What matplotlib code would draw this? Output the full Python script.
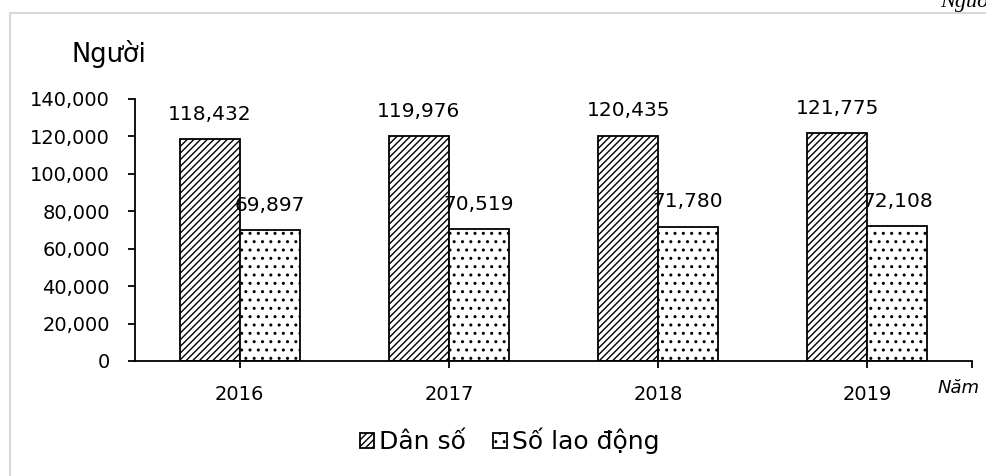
import numpy as np
import matplotlib
matplotlib.use("Agg")
import matplotlib.pyplot as plt
from matplotlib.ticker import FuncFormatter
from matplotlib.lines import Line2D

plt.rcParams['font.family'] = ['DejaVu Sans']
plt.rcParams['hatch.linewidth'] = 1.0

years = ['2016', '2017', '2018', '2019']
dan_so = [118432, 119976, 120435, 121775]
so_lao_dong = [69897, 70519, 71780, 72108]

fig = plt.figure(figsize=(9.86, 4.76), dpi=100)
ax = fig.add_axes([135/986, 1-361/476, (972-135)/986, (361-99)/476])

x = np.arange(len(years))
w = 0.287
b1 = ax.bar(x - w, dan_so, w, align='edge', color='white', edgecolor='black',
            hatch='/////', linewidth=1.3, label='D\u00e2n s\u1ed1')
b2 = ax.bar(x, so_lao_dong, w, align='edge', color='white', edgecolor='black',
            hatch='..', linewidth=1.3, label='S\u1ed1 lao \u0111\u1ed9ng')

for bars, vals in ((b1, dan_so), (b2, so_lao_dong)):
    for r, v in zip(bars, vals):
        ax.annotate(f'{v:,}', (r.get_x() + r.get_width()/2, v),
                    xytext=(0, 11), textcoords='offset points',
                    ha='center', va='bottom', fontsize=14.5)

ax.set_xlim(-0.5, len(years) - 0.5)
ax.set_ylim(0, 140000)
ax.set_yticks(np.arange(0, 140001, 20000))
ax.yaxis.set_major_formatter(FuncFormatter(lambda v, p: f'{v:,.0f}'))
ax.set_xticks(list(x) + [len(years) - 0.5])
ax.set_xticklabels(years + [''])

for s in ('top', 'right'):
    ax.spines[s].set_visible(False)
for s in ('left', 'bottom'):
    ax.spines[s].set_linewidth(1.3)
ax.tick_params(axis='both', direction='out', length=5, width=1.3, labelsize=14)
ax.tick_params(axis='x', pad=12)
ax.tick_params(axis='y', pad=13)

fig.text(72/986, 1-62/476, 'Ng\u01b0\u1eddi', fontsize=18.5, va='baseline')
fig.text(938/986, 1-393/476, 'N\u0103m', fontsize=13, style='italic', va='baseline')
fig.text(940/986, 1-7/476, 'Ngu\u1ed3n', fontsize=16, family='Liberation Serif',
         style='italic', va='baseline')

# light gray chart frame
fig.add_artist(Line2D([10/986, 10/986], [0, 1-13/476], transform=fig.transFigure,
                      color='#d9d9d9', lw=1.5))
fig.add_artist(Line2D([10/986, 1], [1-13/476, 1-13/476], transform=fig.transFigure,
                      color='#d9d9d9', lw=1.5))

fig.legend(handles=[b1, b2], loc='center', bbox_to_anchor=(510/986, 1-441/476),
           ncol=2, frameon=False, fontsize=18, handlelength=0.55, handleheight=0.55,
           handletextpad=0.2, columnspacing=1.1)

fig.savefig('out.png', dpi=100)
